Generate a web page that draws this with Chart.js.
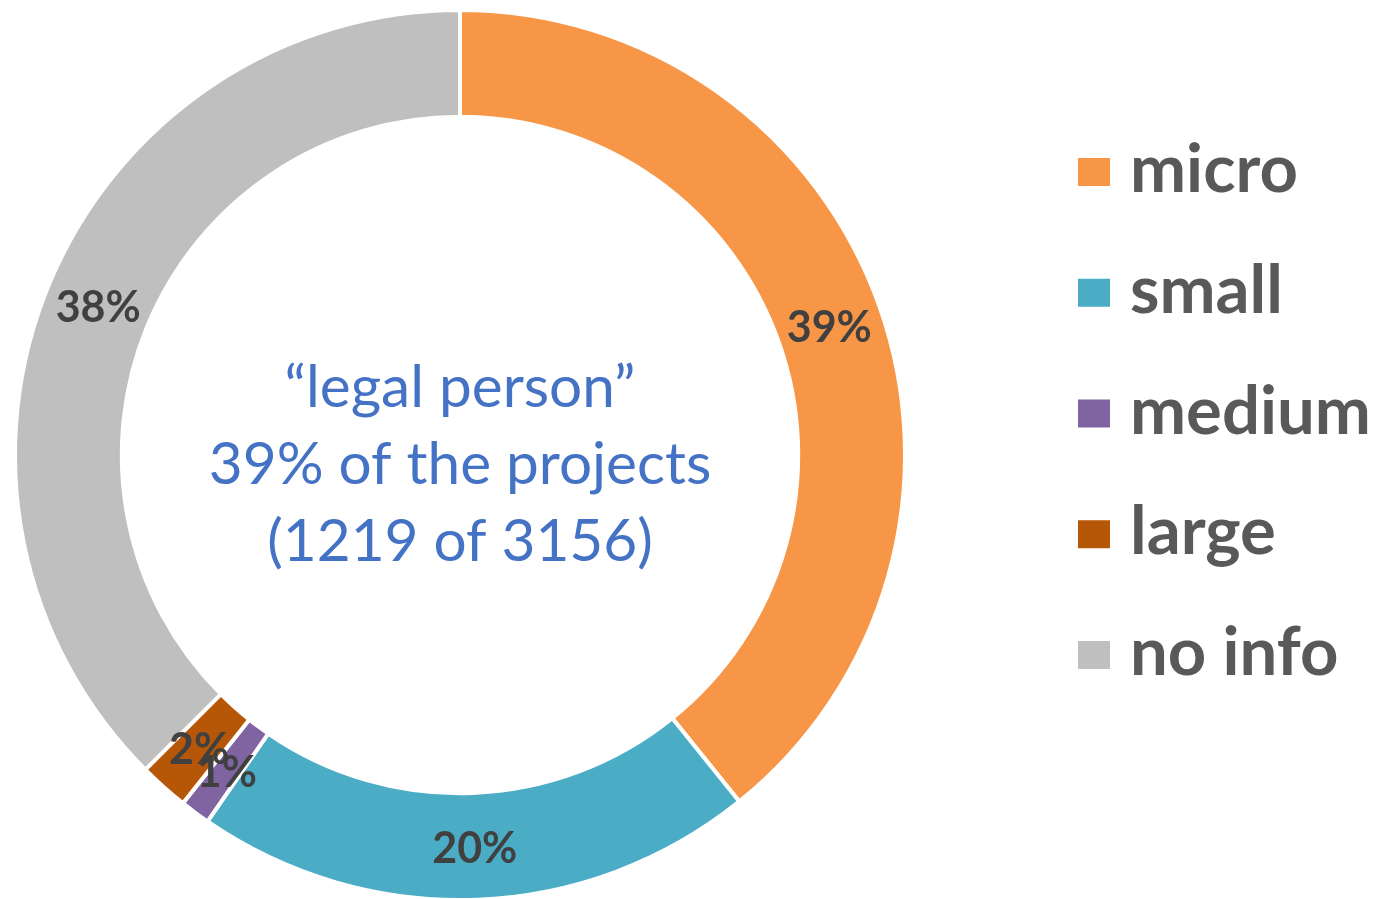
<!DOCTYPE html>
<html>
<head>
<meta charset="utf-8">
<script src="https://cdn.jsdelivr.net/npm/chart.js@4.4.1/dist/chart.umd.min.js"></script>
<style>
  html, body { margin: 0; padding: 0; background: #ffffff; overflow: hidden; }
  #wrap { position: absolute; left: 0; top: 0; width: 1375px; height: 912px; }
</style>
</head>
<body>
<div id="wrap"><canvas id="c"></canvas></div>
<script>
const categories = ["micro", "small", "medium", "large", "no info"];
const shares = [39.2, 20.4, 1.1, 1.8, 37.5];
const shareLabels = ["39%", "20%", "1%", "2%", "38%"];
const colors = ["#F79646", "#4BACC6", "#8064A2", "#B65708", "#BFBFBF"];
const centerLines = ["\u201Clegal person\u201D", "39% of the projects", "(1219 of 3156)"];

const sliceLabels = {
  id: 'sliceLabels',
  afterDatasetsDraw(chart) {
    const ctx = chart.ctx;
    const meta = chart.getDatasetMeta(0);
    ctx.save();
    ctx.font = 'bold 43px Lato, "Open Sans", sans-serif';
    ctx.fillStyle = '#404040';
    ctx.textAlign = 'center';
    ctx.textBaseline = 'middle';
    meta.data.forEach((arc, i) => {
      const p = arc.tooltipPosition();
      ctx.fillText(shareLabels[i], p.x, p.y + 3);
    });
    // centre text
    const cx = (chart.chartArea.left + chart.chartArea.right) / 2;
    const cy = (chart.chartArea.top + chart.chartArea.bottom) / 2;
    ctx.font = '58.5px Lato, "Open Sans", sans-serif';
    ctx.fillStyle = '#4472C4';
    ctx.textBaseline = 'alphabetic';
    centerLines.forEach((t, i) => {
      ctx.fillText(t, cx, cy - 48 + i * 77);
    });
    ctx.restore();
  }
};

const customLegend = {
  id: 'customLegend',
  afterDraw(chart) {
    const ctx = chart.ctx;
    ctx.save();
    ctx.font = 'bold 67px Lato, "Open Sans", sans-serif';
    ctx.textAlign = 'left';
    ctx.textBaseline = 'alphabetic';
    chart.data.labels.forEach((lab, i) => {
      const yc = 172 + i * 120.75;
      ctx.fillStyle = chart.data.datasets[0].backgroundColor[i];
      ctx.fillRect(1078, yc - 14, 32, 28);
      ctx.fillStyle = '#595959';
      ctx.fillText(lab, 1130, yc + 20);
    });
    ctx.restore();
  }
};

new Chart(document.getElementById('c'), {
  type: 'doughnut',
  data: {
    labels: categories,
    datasets: [{
      data: shares,
      backgroundColor: colors,
      borderColor: '#ffffff',
      borderWidth: 4
    }]
  },
  options: {
    responsive: true,
    maintainAspectRatio: false,
    animation: false,
    cutout: '76%',
    layout: { padding: { left: 13, right: 468, top: 8, bottom: 10 } },
    plugins: {
      legend: { display: false },
      tooltip: { enabled: false }
    }
  },
  plugins: [sliceLabels, customLegend]
});
</script>
</body>
</html>
